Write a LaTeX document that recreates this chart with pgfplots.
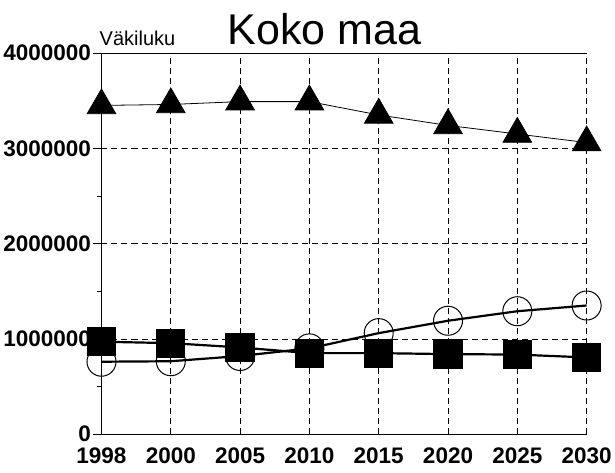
\documentclass[border=0pt]{standalone}
\usepackage{pgfplots}
\pgfplotsset{compat=1.18}
\usepackage{fontspec}
\setmainfont{Liberation Sans}
\begin{document}
\begin{tikzpicture}
\begin{axis}[
  scale only axis, width=485pt, height=381pt,
  xmin=0, xmax=7, ymin=0, ymax=4000000,
  scaled y ticks=false,
  axis x line=bottom, axis y line=left,
  axis line style={-, line width=0.8pt},
  xtick={0,...,7},
  xticklabels={1998,2000,2005,2010,2015,2020,2025,2030},
  ytick={0,1000000,2000000,3000000,4000000},
  yticklabels={0,1000000,2000000,3000000,4000000},
  minor y tick num=1,
  tick style={black, line width=0.6pt},
  major tick length=8pt, minor tick length=4pt,
  ytick style={/pgfplots/tick align=outside},
  xtick style={draw=none},
  grid=major,
  major grid style={dashed, black, line width=0.6pt, dash pattern=on 6pt off 4pt},
  tick label style={font=\fontsize{22.5}{26}\selectfont\bfseries},
  yticklabel style={xshift=-3pt, inner ysep=0pt},
  xticklabel style={yshift=-9pt, inner ysep=0pt},
  clip=false,
]
\addplot[black, line width=0.8pt, mark=triangle*, mark size=16.5pt, mark options={solid}]
  coordinates {(0,3450000) (1,3460000) (2,3490000) (3,3490000) (4,3350000) (5,3240000) (6,3150000) (7,3060000)};
\addplot[black, line width=2.2pt, mark=o, mark size=14.5pt, mark options={fill=white, line width=1pt}]
  coordinates {(0,760000) (1,765000) (2,820000) (3,900000) (4,1060000) (5,1190000) (6,1290000) (7,1350000)};
\addplot[black, line width=2.2pt, mark=square*, mark size=13.5pt]
  coordinates {(0,970000) (1,955000) (2,910000) (3,850000) (4,850000) (5,840000) (6,835000) (7,805000)};
\draw[line width=0.8pt] (rel axis cs:0,1) -- (rel axis cs:1,1);
\node[anchor=base, font=\fontsize{43}{46}\selectfont, inner sep=0pt] at ([yshift=9pt]rel axis cs:0.46,1) {Koko maa};
\node[anchor=base west, font=\fontsize{20}{22}\selectfont, inner sep=0pt] at ([xshift=-2pt,yshift=8pt]rel axis cs:0,1) {Väkiluku};
\path ([yshift=53pt]rel axis cs:0,1) -- ([yshift=-38pt]rel axis cs:0,0);
\end{axis}
\end{tikzpicture}
\end{document}
